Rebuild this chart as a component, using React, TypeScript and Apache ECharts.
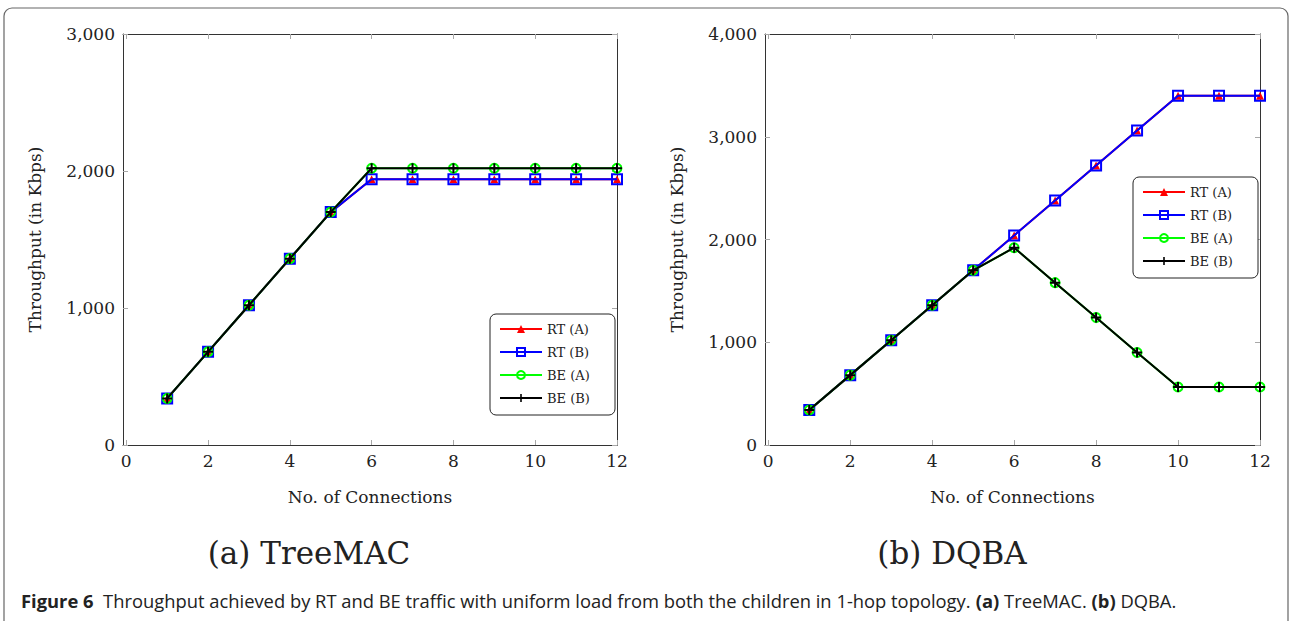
import React, { useEffect, useRef } from "react";
import * as echarts from "echarts";

const connections = [1, 2, 3, 4, 5, 6, 7, 8, 9, 10, 11, 12];
const seriesNames = ["RT (A)", "RT (B)", "BE (A)", "BE (B)"];

const treeRTA = [340, 680, 1020, 1360, 1700, 1940, 1940, 1940, 1940, 1940, 1940, 1940];
const treeRTB = [340, 680, 1020, 1360, 1700, 1940, 1940, 1940, 1940, 1940, 1940, 1940];
const treeBEA = [340, 680, 1020, 1360, 1700, 2020, 2020, 2020, 2020, 2020, 2020, 2020];
const treeBEB = [340, 680, 1020, 1360, 1700, 2020, 2020, 2020, 2020, 2020, 2020, 2020];

const dqbaRTA = [340, 680, 1020, 1360, 1700, 2040, 2380, 2720, 3060, 3400, 3400, 3400];
const dqbaRTB = [340, 680, 1020, 1360, 1700, 2040, 2380, 2720, 3060, 3400, 3400, 3400];
const dqbaBEA = [340, 680, 1020, 1360, 1700, 1920, 1580, 1240, 900, 565, 565, 565];
const dqbaBEB = [340, 680, 1020, 1360, 1700, 1920, 1580, 1240, 900, 565, 565, 565];

const xTicks = [0, 2, 4, 6, 8, 10, 12];
const xMin = -0.08;
const xMax = 12;
const treeYMax = 3000;
const dqbaYMax = 4000;
const yStep = 1000;

const subCaptions = ["(a) TreeMAC", "(b) DQBA"];
const xTitle = "No. of Connections";
const yTitle = "Throughput (in Kbps)";

const SERIF = "DejaVu Serif";
const SANS = "Open Sans";

const PLUS = "path://M4,0H6V4H10V6H6V10H4V6H0V4H4Z";

const styles = [
  { symbol: "triangle", symbolSize: 8, color: "#ff0000", itemStyle: { color: "#ff0000" } },
  {
    symbol: "rect",
    symbolSize: 10,
    color: "#0000ff",
    itemStyle: { color: "rgba(255,255,255,0)", borderColor: "#0000ff", borderWidth: 2 },
  },
  {
    symbol: "circle",
    symbolSize: 9,
    color: "#00ff00",
    itemStyle: { color: "rgba(255,255,255,0)", borderColor: "#00ff00", borderWidth: 2 },
  },
  { symbol: PLUS, symbolSize: 10, color: "#000000", itemStyle: { color: "#000000" } },
];

function makeAxes(g: number, yMax: number) {
  const tick = { show: true, inside: true, length: 5, lineStyle: { color: "#a8a8a8", width: 1 } };
  const line = { show: true, onZero: false, lineStyle: { color: "#333", width: 1 } };
  const label = { fontFamily: SERIF, fontSize: 17, color: "#222" };
  const xBottom = {
    type: "value",
    gridIndex: g,
    position: "bottom",
    min: xMin,
    max: xMax,
    axisLine: line,
    axisTick: { ...tick, customValues: xTicks },
    axisLabel: { ...label, margin: 7, customValues: xTicks },
    splitLine: { show: false },
    name: xTitle,
    nameLocation: "middle",
    nameGap: 43,
    nameTextStyle: { fontFamily: SERIF, fontSize: 17, color: "#222" },
  };
  const xTop = {
    type: "value",
    gridIndex: g,
    position: "top",
    min: xMin,
    max: xMax,
    axisLine: line,
    axisTick: { ...tick, customValues: xTicks },
    axisLabel: { show: false },
    splitLine: { show: false },
  };
  const yLeft = {
    type: "value",
    gridIndex: g,
    position: "left",
    min: 0,
    max: yMax,
    interval: yStep,
    axisLine: line,
    axisTick: tick,
    axisLabel: {
      ...label,
      margin: 8,
      formatter: (v: number) => v.toLocaleString("en-US"),
    },
    splitLine: { show: false },
    name: yTitle,
    nameLocation: "middle",
    nameGap: 80,
    nameRotate: 90,
    nameTextStyle: { fontFamily: SERIF, fontSize: 17, color: "#222" },
  };
  const yRight = {
    type: "value",
    gridIndex: g,
    position: "right",
    min: 0,
    max: yMax,
    interval: yStep,
    axisLine: line,
    axisTick: tick,
    axisLabel: { show: false },
    splitLine: { show: false },
  };
  return { x: [xBottom, xTop], y: [yLeft, yRight] };
}

function makeSeries(g: number, arrays: number[][]) {
  return arrays.map((arr, i) => ({
    type: "line",
    name: seriesNames[i],
    xAxisIndex: g * 2,
    yAxisIndex: g * 2,
    data: connections.map((c, k) => [c, arr[k]]),
    symbol: styles[i].symbol,
    symbolSize: styles[i].symbolSize,
    showAllSymbol: true,
    lineStyle: { color: styles[i].color, width: 2 },
    itemStyle: styles[i].itemStyle,
    emphasis: { disabled: true },
    z: 2 + i,
  }));
}

function makeLegend(left: number, top: number) {
  return {
    left,
    top,
    orient: "vertical",
    data: seriesNames,
    itemWidth: 42,
    itemHeight: 10,
    itemGap: 9,
    selectedMode: false,
    borderColor: "#222",
    borderWidth: 1,
    borderRadius: 6,
    backgroundColor: "#fff",
    padding: [8, 10, 10, 9],
    textStyle: { fontFamily: SERIF, fontSize: 13, color: "#222", width: 58, lineHeight: 14 },
  };
}

export default function App() {
  const ref = useRef<HTMLDivElement>(null);
  useEffect(() => {
    if (!ref.current) return;
    const chart = echarts.init(ref.current, undefined, { renderer: "svg" });
    const a0 = makeAxes(0, treeYMax);
    const a1 = makeAxes(1, dqbaYMax);
    chart.setOption({
      animation: false,
      backgroundColor: "#fff",
      grid: [
        { left: 123, top: 34, width: 494, height: 411 },
        { left: 765, top: 34, width: 495, height: 411 },
      ],
      xAxis: [...a0.x, ...a1.x],
      yAxis: [...a0.y, ...a1.y],
      legend: [makeLegend(490, 314), makeLegend(1133, 177)],
      series: [
        ...makeSeries(0, [treeRTA, treeRTB, treeBEA, treeBEB]),
        ...makeSeries(1, [dqbaRTA, dqbaRTB, dqbaBEA, dqbaBEB]),
      ],
      graphic: [
        {
          type: "rect",
          z: -1,
          shape: { x: 4, y: 8, width: 1284, height: 660, r: 8 },
          style: { fill: "rgba(0,0,0,0)", stroke: "#666", lineWidth: 1.2 },
        },
        {
          type: "text",
          x: 309,
          y: 553,
          style: {
            text: subCaptions[0],
            fontFamily: SERIF,
            fontSize: 31,
            fill: "#222",
            align: "center",
            verticalAlign: "middle",
            textAlign: "center",
            textVerticalAlign: "middle",
          },
        },
        {
          type: "text",
          x: 952,
          y: 553,
          style: {
            text: subCaptions[1],
            fontFamily: SERIF,
            fontSize: 31,
            fill: "#222",
            align: "center",
            verticalAlign: "middle",
            textAlign: "center",
            textVerticalAlign: "middle",
          },
        },
        {
          type: "text",
          x: 21,
          y: 601,
          scaleX: 1.02,
          style: {
            text:
              "{b|Figure 6}  Throughput achieved by RT and BE traffic with uniform load from both the children in 1-hop topology. {b|(a)} TreeMAC. {b|(b)} DQBA.",
            fontFamily: SANS,
            fontSize: 18,
            fill: "#222",
            verticalAlign: "middle",
            textVerticalAlign: "middle",
            rich: {
              b: { fontFamily: SANS, fontSize: 18, fontWeight: "bold", fill: "#222" },
            },
          },
        },
      ],
    });
    return () => chart.dispose();
  }, []);
  return (
    <div
      ref={ref}
      style={{ position: "fixed", left: 0, top: 0, width: 1290, height: 621 }}
    />
  );
}
